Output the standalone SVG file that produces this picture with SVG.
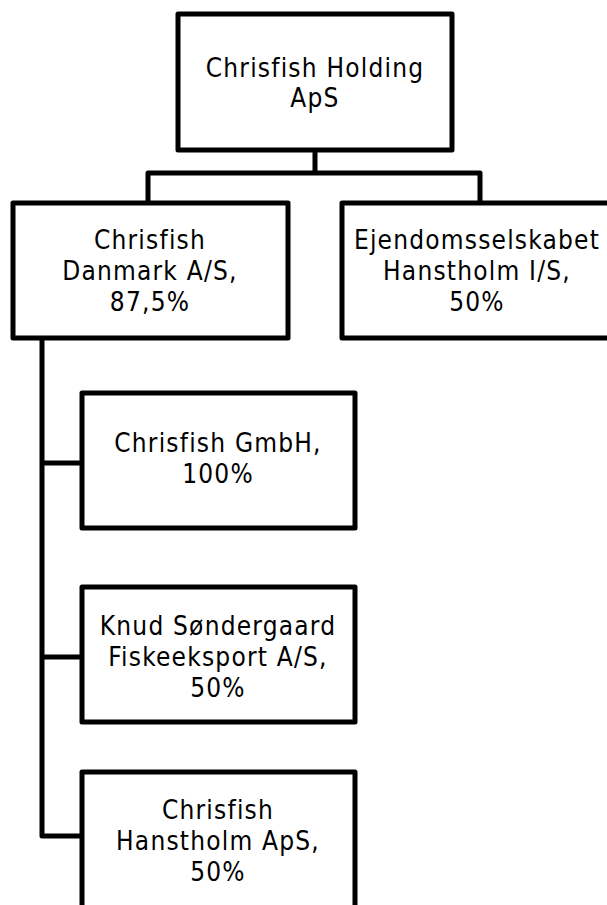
<svg xmlns="http://www.w3.org/2000/svg" width="607" height="905" viewBox="0 0 607 905">
<style>
.box{fill:#fff;stroke:#000;stroke-width:5;stroke-linejoin:round}
.con{fill:none;stroke:#000;stroke-width:5;stroke-linejoin:round}
text{font-family:"DejaVu Sans Condensed","DejaVu Sans","Liberation Sans",sans-serif;font-size:26px;letter-spacing:1.2px;fill:#000;text-anchor:middle}
</style>
<rect width="607" height="905" fill="#fff"/>
<g id="connectors">
<path class="con" d="M315 150V173M148 202V173H480V202"/>
<path class="con" d="M42 338V836H82M42 463H82M42 657H82"/>
</g>
<g id="holding">
<rect class="box" x="178" y="14" width="274" height="136"/>
<text x="315" y="77">Chrisfish Holding</text>
<text x="315" y="107">ApS</text>
</g>
<g id="danmark">
<rect class="box" x="13" y="203" width="275" height="135"/>
<text x="150" y="249">Chrisfish</text>
<text x="150" y="280">Danmark A/S,</text>
<text x="150" y="311">87,5%</text>
</g>
<g id="ejendom">
<rect class="box" x="342" y="203" width="270" height="135"/>
<text x="477" y="249">Ejendomsselskabet</text>
<text x="477" y="280">Hanstholm I/S,</text>
<text x="477" y="311">50%</text>
</g>
<g id="gmbh">
<rect class="box" x="82" y="393" width="273" height="135"/>
<text x="218" y="452">Chrisfish GmbH,</text>
<text x="218" y="483">100%</text>
</g>
<g id="knud">
<rect class="box" x="82" y="587" width="273" height="135"/>
<text x="218" y="635">Knud Søndergaard</text>
<text x="218" y="666">Fiskeeksport A/S,</text>
<text x="218" y="697">50%</text>
</g>
<g id="hanstholm">
<rect class="box" x="82" y="772" width="273" height="145"/>
<text x="218" y="819">Chrisfish</text>
<text x="218" y="850">Hanstholm ApS,</text>
<text x="218" y="881">50%</text>
</g>
</svg>
